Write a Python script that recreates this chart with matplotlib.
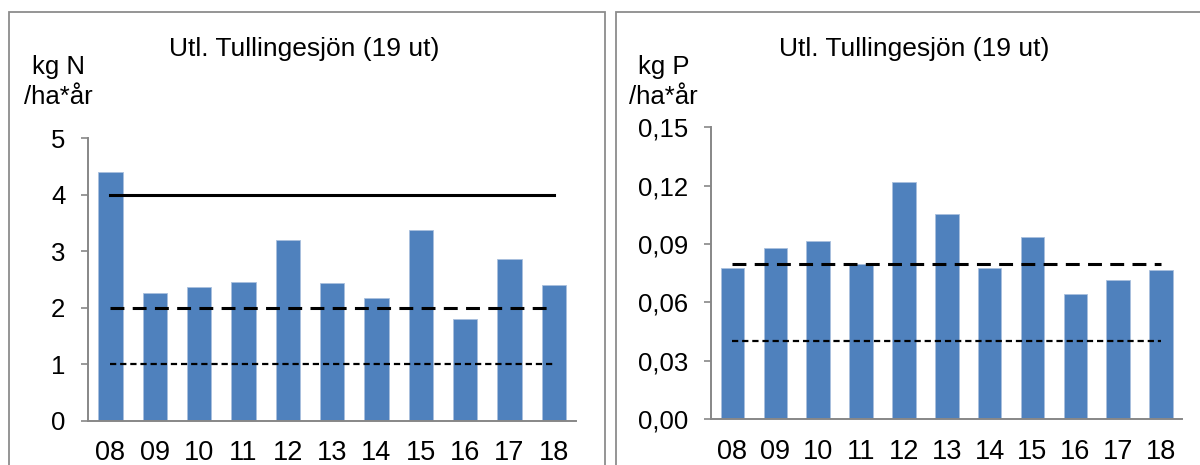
import matplotlib
matplotlib.use("Agg")
import matplotlib.pyplot as plt
from matplotlib.patches import Rectangle
from matplotlib.ticker import FuncFormatter

plt.rcParams["font.family"] = ["Liberation Sans", "DejaVu Sans"]
plt.rcParams["lines.scale_dashes"] = False

years = ["08", "09", "10", "11", "12", "13", "14", "15", "16", "17", "18"]
kg_n = [4.41, 2.26, 2.36, 2.45, 3.20, 2.43, 2.17, 3.38, 1.80, 2.86, 2.40]
kg_p = [0.0776, 0.0878, 0.0918, 0.0796, 0.1219, 0.1057, 0.0776, 0.0938, 0.0642, 0.0714, 0.0765]

# reference levels drawn as horizontal lines
n_solid, n_dashed, n_dotted = 4, 2, 1
p_dashed, p_dotted = 0.08, 0.04

title = "Utl. Tullingesjön (19 ut)"
BAR = "#4F81BD"
GREY = "#878787"

fig = plt.figure(figsize=(12, 4.65), dpi=100)

# panel frames (Excel chart areas), running off the bottom/right edge
for x0, x1 in [(9, 605.5), (615.5, 1215)]:
    fig.patches.append(Rectangle((x0 / 1200, -0.1), (x1 - x0) / 1200, (465 - 12.3) / 465 + 0.1,
                                 transform=fig.transFigure, fill=False,
                                 edgecolor="#8c8c8c", linewidth=1.3))


def style_axes(ax):
    for s in ["top", "right"]:
        ax.spines[s].set_visible(False)
    for s in ["left", "bottom"]:
        ax.spines[s].set_color(GREY)
        ax.spines[s].set_linewidth(1.4)
    ax.tick_params(axis="y", length=5, width=1.2, color=GREY, pad=11.5, labelsize=18.5)
    ax.tick_params(axis="x", length=0, pad=14, labelsize=19.5)
    ax.set_xlim(-0.5, len(years) - 0.5)
    ax.set_xticks(range(len(years)))
    ax.set_xticklabels(years)


# left: nitrogen
ax1 = fig.add_axes([0.0736, 0.0953, 0.4064, 0.6073])
ax1.bar(range(len(years)), kg_n, width=0.55, color=BAR, edgecolor="#a9c0de", linewidth=0.6, zorder=2)
ax1.plot([0, len(years) - 1], [n_solid] * 2, color="black", lw=2.2, zorder=3)
ax1.plot([0, len(years) - 1], [n_dashed] * 2, color="black", lw=2.2, dashes=(10, 6), zorder=3)
ax1.plot([0, len(years) - 1], [n_dotted] * 2, color="black", lw=1.6, dashes=(4.5, 2.8), zorder=3)
ax1.set_ylim(0, 5)
ax1.set_yticks(range(0, 6))
style_axes(ax1)

# right: phosphorus
ax2 = fig.add_axes([0.5925, 0.0983, 0.3929, 0.628])
ax2.bar(range(len(years)), kg_p, width=0.55, color=BAR, edgecolor="#a9c0de", linewidth=0.6, zorder=2)
ax2.plot([0, len(years) - 1], [p_dashed] * 2, color="black", lw=2.2, dashes=(10, 6), zorder=3)
ax2.plot([0, len(years) - 1], [p_dotted] * 2, color="black", lw=1.6, dashes=(4.5, 2.8), zorder=3)
ax2.set_ylim(0, 0.15)
ax2.set_yticks([0, 0.03, 0.06, 0.09, 0.12, 0.15])
ax2.yaxis.set_major_formatter(FuncFormatter(lambda v, _: f"{v:.2f}".replace(".", ",")))
style_axes(ax2)

# titles and unit labels placed in figure pixels
def fig_text(x, y, s, size):
    fig.text(x / 1200, 1 - y / 465, s, ha="center", va="center", fontsize=size)

fig_text(304, 49, title, 19)
fig_text(914, 49, title, 19)
fig_text(59, 67, "kg N", 18.5)
fig_text(58, 97, "/ha*år", 18.5)
fig_text(664, 67, "kg P", 18.5)
fig_text(663, 97, "/ha*år", 18.5)

fig.savefig("out.png", dpi=100)
